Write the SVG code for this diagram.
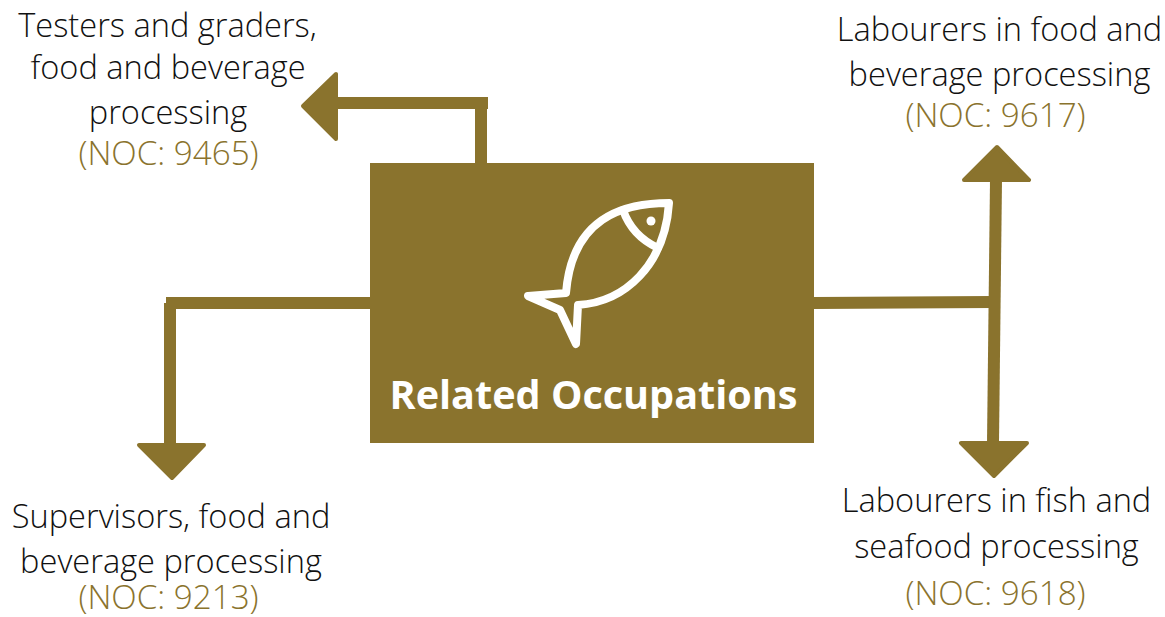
<svg xmlns="http://www.w3.org/2000/svg" width="1165" height="617" viewBox="0 0 1165 617">
<style>
.t{font-family:"Open Sans","Noto Sans",sans-serif;font-weight:300;font-size:32.6px;text-anchor:middle;fill:#111}
.t.n{fill:#8a732d;font-size:33.2px}
.c{stroke:#8a732d;stroke-width:12;fill:none}
.h{fill:#8a732d;stroke:#8a732d;stroke-width:4;stroke-linejoin:round}
</style>
<rect width="1165" height="617" fill="#fff"/>
<g id="connectors">
<path class="c" d="M481 163V103"/>
<path class="c" d="M488 103H335"/>
<path class="h" d="M303 106L336 74V139Z"/>
<path class="c" d="M370 303H166"/>
<path class="c" d="M170 303V445"/>
<path class="h" d="M139 445H204L172 478Z"/>
<path class="c" d="M814 303L993 302"/>
<path class="c" d="M996 180L993 443"/>
<path class="h" d="M964 180L997 147L1029 180Z"/>
<path class="h" d="M961 443H1027L994 476Z"/>
</g>
<g id="center">
<rect x="370" y="163" width="444" height="280" fill="#8a732d"/>
<g fill="none" stroke="#fff" stroke-width="8" stroke-linejoin="round" stroke-linecap="round">
<path d="M669 203C622 203 572 218 566 293L528 296L560 310L576 344L578 305C625 302 665 265 669 203Z"/>
<path d="M623 210C630 230 643 241 658 248"/>
</g>
<circle cx="651" cy="221" r="4.500" fill="#fff"/>
<text x="593.500" y="409" font-family="'Open Sans','Noto Sans',sans-serif" font-weight="700" font-size="39.600" text-anchor="middle" fill="#fff">Related Occupations</text>
</g>
<g id="tl"><text class="t" x="167.500" y="37">Testers and graders,</text><text class="t" x="168" y="79">food and beverage</text><text class="t" x="168" y="124">processing</text><text class="t n" x="168.500" y="165">(NOC: 9465)</text></g>
<g id="tr"><text class="t" x="999.500" y="41">Labourers in food and</text><text class="t" x="999.500" y="86">beverage processing</text><text class="t n" x="995.500" y="127">(NOC: 9617)</text></g>
<g id="bl"><text class="t" x="171" y="528">Supervisors, food and</text><text class="t" x="171" y="573">beverage processing</text><text class="t n" x="168.500" y="609">(NOC: 9213)</text></g>
<g id="br"><text class="t" x="996.500" y="512">Labourers in fish and</text><text class="t" x="996.500" y="558">seafood processing</text><text class="t n" x="995.500" y="605">(NOC: 9618)</text></g>
</svg>
